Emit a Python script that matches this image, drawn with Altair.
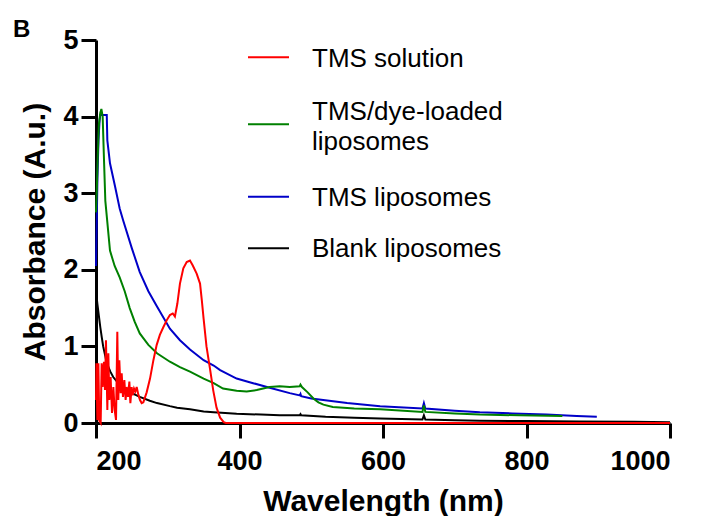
import altair as alt
import pandas as pd

series_names = ["TMS solution", "TMS/dye-loaded liposomes", "TMS liposomes", "Blank liposomes"]
series_colors = ["#ff0000", "#008000", "#0000c8", "#000000"]
legend_lines = [["TMS solution"], ["TMS/dye-loaded", "liposomes"], ["TMS liposomes"], ["Blank liposomes"]]
x_ticks = [200, 400, 600, 800, 1000]
y_ticks = [0, 1, 2, 3, 4, 5]

# TMS solution (red)
red_wl = [200.0, 200.6, 201.9, 203.3, 204.6, 206.5, 207.9, 209.3, 211.1, 212.5, 213.9,
          215.8, 217.2, 218.6, 220.4, 222.3, 224.2, 226.0, 227.9, 229.7, 231.1, 232.5,
          234.4, 235.8, 237.6, 239.5, 241.3, 242.7, 244.6, 246.5, 247.9, 249.7, 251.1,
          253.0, 254.8, 256.7, 259.0, 261.3, 263.7, 266.0, 270.6, 275.3, 280.0, 284.6,
          289.0, 293.8, 298.5, 303.0, 307.0, 310.0, 313.4, 317.0, 321.7, 326.4, 331.0,
          334.7, 340.3, 345.0, 347.5, 350.0, 354.0, 359.0, 363.5, 368.0, 373.0, 378.0,
          381.0, 500.0, 700.0, 900.0, 1000.0]
red_abs = [0.30, 0.78, 0.04, 0.78, 0.03, 0.00, 0.78, 0.47, 0.80, 0.43, 1.08,
           0.17, 0.91, 0.30, 0.60, 0.13, 0.47, 0.17, 0.04, 1.19, 0.30, 0.82,
           0.39, 0.65, 0.34, 0.56, 0.30, 0.47, 0.34, 0.54, 0.26, 0.47, 0.36,
           0.45, 0.41, 0.47, 0.37, 0.30, 0.26, 0.27, 0.40, 0.58, 0.82, 1.02,
           1.15, 1.25, 1.34, 1.41, 1.43, 1.39, 1.56, 1.82, 2.02, 2.10, 2.12,
           2.06, 1.95, 1.82, 1.60, 1.36, 1.00, 0.70, 0.42, 0.20, 0.07, 0.01,
           0.00, 0.00, 0.00, 0.00, 0.00]

# TMS/dye-loaded liposomes (green)
green_wl = [200.0, 201.0, 202.5, 204.0, 206.0, 207.5, 209.3, 211.0, 213.0, 215.0, 219.5,
            226.0, 233.0, 240.0, 247.0, 254.0, 261.0, 273.0, 285.0, 303.0, 317.0, 331.0,
            350.0, 364.0, 377.0, 396.0, 410.0, 424.0, 442.0, 456.0, 470.0, 484.0, 485.0,
            487.0, 495.0, 503.0, 510.0, 517.0, 530.0, 560.0, 596.0, 655.0, 657.0, 659.0,
            700.0, 735.0, 790.0, 850.0]
green_abs = [2.75, 3.00, 3.50, 3.90, 4.05, 4.10, 4.00, 3.48, 2.90, 2.70, 2.25,
             2.05, 1.90, 1.72, 1.50, 1.32, 1.17, 1.02, 0.91, 0.80, 0.73, 0.67,
             0.58, 0.52, 0.45, 0.42, 0.41, 0.43, 0.47, 0.48, 0.47, 0.48, 0.50,
             0.47, 0.40, 0.32, 0.27, 0.24, 0.21, 0.19, 0.18, 0.145, 0.23, 0.145,
             0.125, 0.11, 0.10, 0.09]

# TMS liposomes (blue)
blue_wl = [200.0, 201.0, 202.0, 203.5, 205.0, 206.0, 210.0, 215.0, 215.8, 219.5, 226.5,
           233.0, 238.0, 250.0, 261.0, 273.0, 285.0, 303.0, 317.0, 331.0, 350.0, 364.0,
           373.0, 396.0, 419.0, 442.0, 470.0, 484.0, 485.0, 486.0, 500.0, 550.0, 596.0,
           655.0, 657.0, 659.0, 700.0, 735.0, 780.0, 828.0, 870.0, 898.0]
blue_abs = [2.05, 2.60, 3.20, 3.70, 3.95, 4.02, 4.02, 4.02, 3.69, 3.39, 3.09,
            2.80, 2.64, 2.28, 1.97, 1.72, 1.52, 1.23, 1.08, 0.96, 0.82, 0.75,
            0.69, 0.58, 0.52, 0.46, 0.39, 0.36, 0.38, 0.35, 0.32, 0.26, 0.22,
            0.19, 0.26, 0.19, 0.16, 0.14, 0.125, 0.11, 0.09, 0.08]

# Blank liposomes (black)
black_wl = [200.0, 202.0, 204.0, 206.0, 208.0, 210.0, 213.0, 215.0, 220.0, 224.0, 230.0,
            238.0, 250.0, 261.0, 275.0, 285.0, 303.0, 313.0, 331.0, 350.0, 364.0, 396.0,
            430.0, 456.0, 484.0, 485.0, 486.0, 520.0, 560.0, 596.0, 655.0, 657.0, 659.0,
            700.0, 735.0, 800.0, 874.0, 950.0, 1000.0]
black_abs = [1.72, 1.55, 1.40, 1.25, 1.12, 1.00, 0.87, 0.78, 0.67, 0.60, 0.53,
             0.47, 0.39, 0.34, 0.29, 0.26, 0.22, 0.20, 0.18, 0.15, 0.14, 0.12,
             0.11, 0.10, 0.10, 0.115, 0.10, 0.08, 0.07, 0.06, 0.045, 0.10, 0.045,
             0.035, 0.03, 0.025, 0.02, 0.015, 0.01]

frames = []
for name, wl, ab in [
    ("Blank liposomes", black_wl, black_abs),
    ("TMS liposomes", blue_wl, blue_abs),
    ("TMS/dye-loaded liposomes", green_wl, green_abs),
    ("TMS solution", red_wl, red_abs),
]:
    frames.append(pd.DataFrame({"wavelength": wl, "absorbance": ab, "series": name,
                                "idx": range(len(wl))}))
df = pd.concat(frames, ignore_index=True)

FONT = "Liberation Sans"
color_scale = alt.Scale(domain=series_names, range=series_colors)

# ---- legend layout (pixels relative to the plot area's top-left) ----
LEG_SYM_X0, LEG_SYM_X1, LEG_TEXT_X = 152, 193, 216
entry_symbol_y = [17.3, 84.3, 156.7, 208.3]      # symbol centre of each entry
first_baseline_dy = [10.0, -4.3, 9.3, 8.7]        # first text baseline relative to symbol
LINE_HEIGHT = 30
sym_rows, text_rows = [], []
for name, lines, sy, dy in zip(series_names, legend_lines, entry_symbol_y, first_baseline_dy):
    sym_rows.append({"series": name, "sy": sy})
    for k, line in enumerate(lines):
        text_rows.append({"label": line, "ty": sy + dy + k * LINE_HEIGHT})
sym_df = pd.DataFrame(sym_rows)
text_df = pd.DataFrame(text_rows)

lines = alt.Chart(df).mark_line(strokeWidth=2, interpolate="linear").encode(
    x=alt.X("wavelength:Q",
            scale=alt.Scale(domain=[200, 1000], nice=False, zero=False),
            axis=alt.Axis(title="Wavelength (nm)", values=x_ticks, format="d",
                          labelPadding=10, titlePadding=12)),
    y=alt.Y("absorbance:Q",
            scale=alt.Scale(domain=[0, 5], nice=False),
            axis=alt.Axis(title="Absorbance (A.u.)", values=y_ticks, format="d",
                          labelPadding=3, titlePadding=12)),
    color=alt.Color("series:N", scale=color_scale, legend=None),
    detail="series:N",
    order="idx:Q",
)

legend_symbols = alt.Chart(sym_df).mark_rule(strokeWidth=2).encode(
    x=alt.value(LEG_SYM_X0), x2=alt.value(LEG_SYM_X1),
    y=alt.Y("sy:Q", scale=None, axis=None),
    color=alt.Color("series:N", scale=color_scale, legend=None),
)

legend_text = alt.Chart(text_df).mark_text(
    align="left", baseline="alphabetic", font=FONT, fontSize=26, color="#000000"
).encode(
    x=alt.value(LEG_TEXT_X),
    y=alt.Y("ty:Q", scale=None, axis=None),
    text="label:N",
)

panel_label = alt.Chart(pd.DataFrame({"t": ["B"]})).mark_text(
    align="left", baseline="alphabetic", font=FONT, fontSize=24, fontWeight="bold",
    color="#000000"
).encode(x=alt.value(-83), y=alt.value(-3), text="t:N")

chart = alt.layer(lines, legend_symbols, legend_text, panel_label).properties(
    width=574,
    height=383,
    autosize=alt.AutoSizeParams(type="none"),
    padding={"left": 88, "top": 32, "right": 26, "bottom": 93},
    background="white",
).configure_view(stroke=None).configure_axis(
    grid=False,
    domainColor="#000000", domainWidth=3,
    tickColor="#000000", tickWidth=3, tickSize=15,
    labelFont=FONT, labelFontSize=27, labelFontWeight="bold", labelColor="#000000",
    titleFont=FONT, titleFontSize=30, titleFontWeight="bold", titleColor="#000000",
)

chart.save("out.html", embed_options={"renderer": "svg", "actions": False})
